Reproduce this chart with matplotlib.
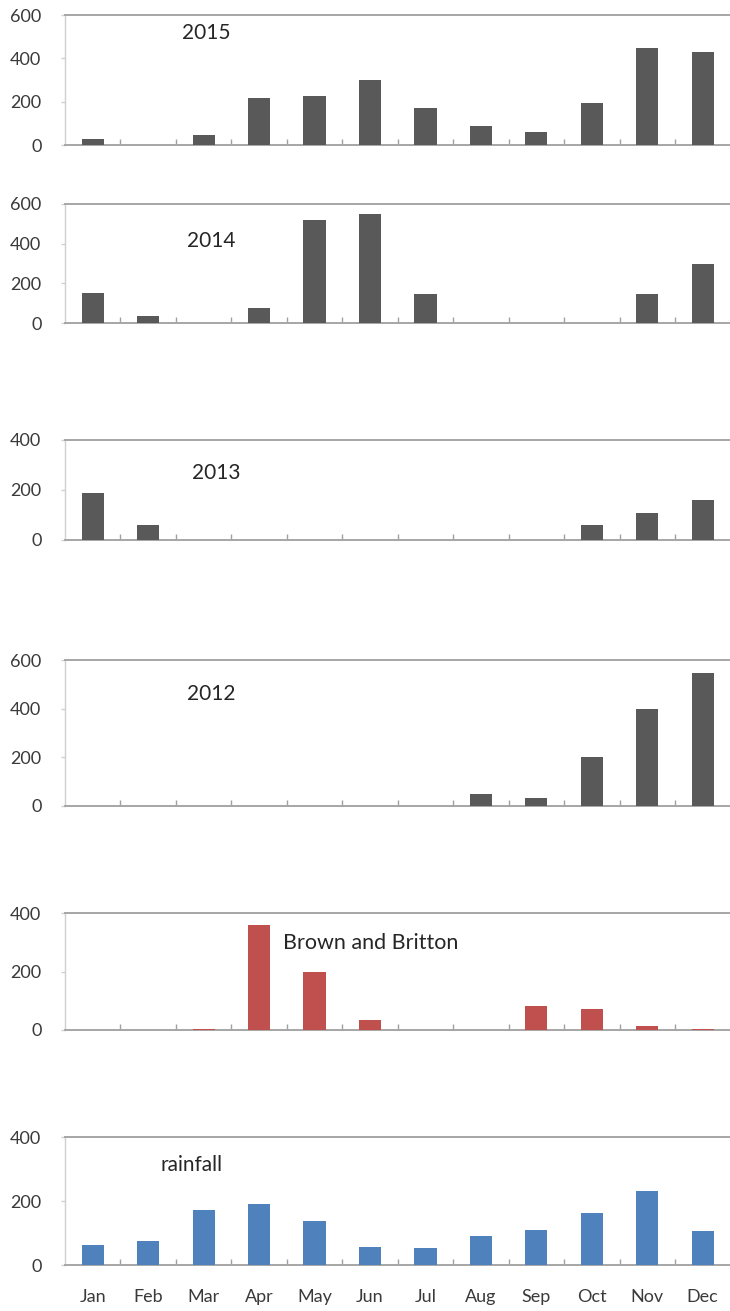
import matplotlib
matplotlib.use("Agg")
import matplotlib.pyplot as plt
from matplotlib.ticker import FixedLocator

plt.rcParams['font.family'] = ['Lato', 'DejaVu Sans']

months = ["Jan", "Feb", "Mar", "Apr", "May", "Jun", "Jul", "Aug", "Sep", "Oct", "Nov", "Dec"]
v2015 = [30, 0, 47, 215, 228, 300, 172, 88, 60, 196, 450, 428]
v2014 = [152, 35, 0, 75, 520, 550, 147, 0, 0, 0, 147, 298]
v2013 = [190, 60, 0, 0, 0, 0, 0, 0, 0, 60, 110, 160]
v2012 = [0, 0, 0, 0, 0, 0, 0, 48, 32, 200, 400, 545]
brown = [0, 0, 5, 358, 198, 35, 0, 0, 83, 73, 12, 5]
rain = [62, 75, 172, 192, 136, 56, 52, 91, 110, 162, 232, 106]

panels = [
    ("2015", v2015, [0, 200, 400, 600], 600, "#595959", 15, 145, (182, 33)),
    ("2014", v2014, [0, 200, 400, 600], 600, "#595959", 204, 323, (187, 241)),
    ("2013", v2013, [0, 200, 400], 400, "#595959", 440, 540, (192, 473)),
    ("2012", v2012, [0, 200, 400, 600], 600, "#595959", 660, 806, (187, 694)),
    ("Brown and Britton", brown, [0, 200, 400], 400, "#c0504d", 913, 1030, (283, 943)),
    ("rainfall", rain, [0, 200, 400], 400, "#4f81bd", 1137, 1265, (160, 1165)),
]

W, H = 730, 1311
fig = plt.figure(figsize=(W / 100, H / 100), dpi=100)
x0, x1 = 65, 736
xs = list(range(len(months)))

for i, (label, vals, yt, ymax, col, top, bot, (tx, ty)) in enumerate(panels):
    ax = fig.add_axes([x0 / W, 1 - bot / H, (x1 - x0) / W, (bot - top) / H])
    ax.bar(xs, vals, width=0.4, color=col, zorder=3)
    ax.set_xlim(-0.5, 11.6)
    ax.set_ylim(0, ymax)
    ax.set_yticks(yt)
    ax.set_yticklabels([str(t) for t in yt])
    ax.tick_params(axis='y', length=3, width=1, color='#d0d0d0', direction='out',
                   pad=14, labelsize=13, labelcolor='#3a3a3a')
    ax.set_xticks(xs)
    if i == len(panels) - 1:
        ax.set_xticklabels(months)
        ax.tick_params(axis='x', length=0, pad=17, labelsize=13, labelcolor='#3a3a3a')
    else:
        ax.set_xticklabels([])
        ax.tick_params(axis='x', length=0)
    ax.xaxis.set_minor_locator(FixedLocator([k + 0.5 for k in range(11)]))
    ax.tick_params(axis='x', which='minor', direction='in', length=4, color='#a0a0a0', width=1)
    for s in ['top', 'bottom']:
        ax.spines[s].set_color('#a6a6a6')
        ax.spines[s].set_linewidth(1.4)
    ax.spines['right'].set_visible(False)
    ax.spines['left'].set_color('#d0d0d0')
    ax.spines['left'].set_linewidth(1.0)
    fig.text(tx / W, 1 - ty / H, label, fontsize=15.5 if i == 4 else 15,
             color='#262626', va='center', ha='left')

fig.savefig("out.png", dpi=100)
